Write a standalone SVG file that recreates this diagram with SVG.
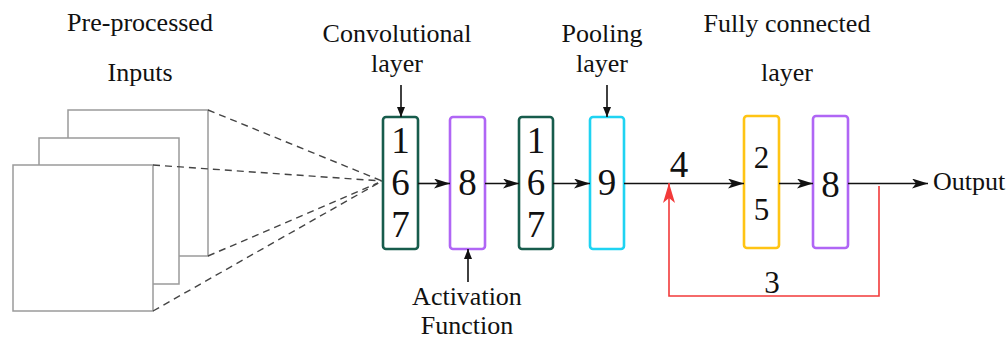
<svg xmlns="http://www.w3.org/2000/svg" width="1008" height="339" viewBox="0 0 1008 339">
  <style>
    text { font-family: 'Liberation Serif', serif; fill: #111; text-anchor: middle; }
    .lbl { font-size: 26px; }
    .big { font-size: 37px; }
    .mid { font-size: 31px; }
    .sheet { fill: #fff; stroke: #9a9a9a; stroke-width: 1.5; }
    .dash { fill: none; stroke: #444; stroke-width: 1.4; stroke-dasharray: 7 5; }
    .layer { fill: #fff; stroke-width: 2.6; }
    .conv { stroke: #175c4c; }
    .act { stroke: #b066f5; }
    .pool { stroke: #1fd3f2; }
    .fc { stroke: #ffc414; }
    .flow { fill: none; stroke: #111; stroke-width: 1.6; }
    .feedback { fill: none; stroke: #f23a3a; stroke-width: 1.6; }
  </style>
  <defs>
    <marker id="head" viewBox="0 0 16 10" refX="16" refY="5" markerWidth="16" markerHeight="10" markerUnits="userSpaceOnUse" orient="auto">
      <path d="M0,0 L16,5 L0,10 L4,5 z" fill="#111"/>
    </marker>
    <marker id="tip" viewBox="0 0 10 8" refX="10" refY="4" markerWidth="10" markerHeight="8" markerUnits="userSpaceOnUse" orient="auto">
      <path d="M0,0 L10,4 L0,8 z" fill="#111"/>
    </marker>
    <marker id="redhead" viewBox="0 0 20 12" refX="20" refY="6" markerWidth="20" markerHeight="12" markerUnits="userSpaceOnUse" orient="auto">
      <path d="M0,0 L20,6 L0,12 L5,6 z" fill="#f23a3a"/>
    </marker>
  </defs>

  <!-- stacked input sheets -->
  <g id="inputs">
    <rect class="sheet" x="68" y="110" width="140" height="146"/>
    <rect class="sheet" x="39" y="138" width="140" height="146"/>
    <rect class="sheet" x="13" y="165" width="140" height="146"/>
    <text class="lbl" x="140" y="31">Pre-processed</text>
    <text class="lbl" x="140" y="81">Inputs</text>
  </g>

  <!-- receptive field projection -->
  <g id="projection">
    <line class="dash" x1="208" y1="110" x2="382" y2="181"/>
    <line class="dash" x1="153" y1="165" x2="382" y2="181"/>
    <line class="dash" x1="208" y1="256" x2="378" y2="183"/>
    <line class="dash" x1="153" y1="311" x2="382" y2="181"/>
  </g>

  <g id="conv1">
    <rect class="layer conv" x="383" y="117" width="35" height="132" rx="3"/>
    <text class="big" x="400.5" y="153">1</text>
    <text class="big" x="400.5" y="195">6</text>
    <text class="big" x="400.5" y="237">7</text>
  </g>

  <g id="activation">
    <rect class="layer act" x="450" y="117" width="35" height="132" rx="3"/>
    <text class="big" x="467.5" y="195">8</text>
  </g>

  <g id="conv2">
    <rect class="layer conv" x="519" y="117" width="34" height="132" rx="3"/>
    <text class="big" x="536" y="153">1</text>
    <text class="big" x="536" y="195">6</text>
    <text class="big" x="536" y="237">7</text>
  </g>

  <g id="pool">
    <rect class="layer pool" x="590" y="117" width="34" height="132" rx="3"/>
    <text class="big" x="607" y="195">9</text>
  </g>

  <g id="fc1">
    <rect class="layer fc" x="744" y="116" width="35" height="132" rx="3"/>
    <text class="mid" x="761.5" y="168">2</text>
    <text class="mid" x="761.5" y="220">5</text>
  </g>

  <g id="fc2">
    <rect class="layer act" x="813" y="116" width="35" height="132" rx="3"/>
    <text class="big" x="830.5" y="197">8</text>
  </g>

  <g id="labels">
    <text class="lbl" x="397" y="42">Convolutional</text>
    <text class="lbl" x="397" y="72">layer</text>
    <text class="lbl" x="602" y="42">Pooling</text>
    <text class="lbl" x="602" y="72">layer</text>
    <text class="lbl" x="787" y="32">Fully connected</text>
    <text class="lbl" x="787" y="81">layer</text>
    <text class="lbl" x="467" y="305">Activation</text>
    <text class="lbl" x="467" y="334">Function</text>
    <text class="lbl" x="969" y="190">Output</text>
    <text class="big" x="679" y="177">4</text>
    <text class="mid" x="772" y="293">3</text>
  </g>

  <g id="connectors">
    <line class="flow" x1="401" y1="85" x2="401" y2="117" marker-end="url(#tip)"/>
    <line class="flow" x1="607" y1="85" x2="607" y2="117" marker-end="url(#tip)"/>
    <line class="flow" x1="468" y1="282" x2="468" y2="249" marker-end="url(#tip)"/>
    <line class="flow" x1="418" y1="183.5" x2="450" y2="183.5" marker-end="url(#head)"/>
    <line class="flow" x1="485" y1="183.5" x2="519" y2="183.5" marker-end="url(#head)"/>
    <line class="flow" x1="553" y1="183.5" x2="590" y2="183.5" marker-end="url(#head)"/>
    <line class="flow" x1="624" y1="183.5" x2="744" y2="183.5" marker-end="url(#head)"/>
    <line class="flow" x1="779" y1="183.5" x2="813" y2="183.5" marker-end="url(#head)"/>
    <line class="flow" x1="848" y1="183.5" x2="928" y2="183.5" marker-end="url(#head)"/>
    <polyline class="feedback" points="879,186 879,296 669,296 669,183" marker-end="url(#redhead)"/>
  </g>
</svg>
